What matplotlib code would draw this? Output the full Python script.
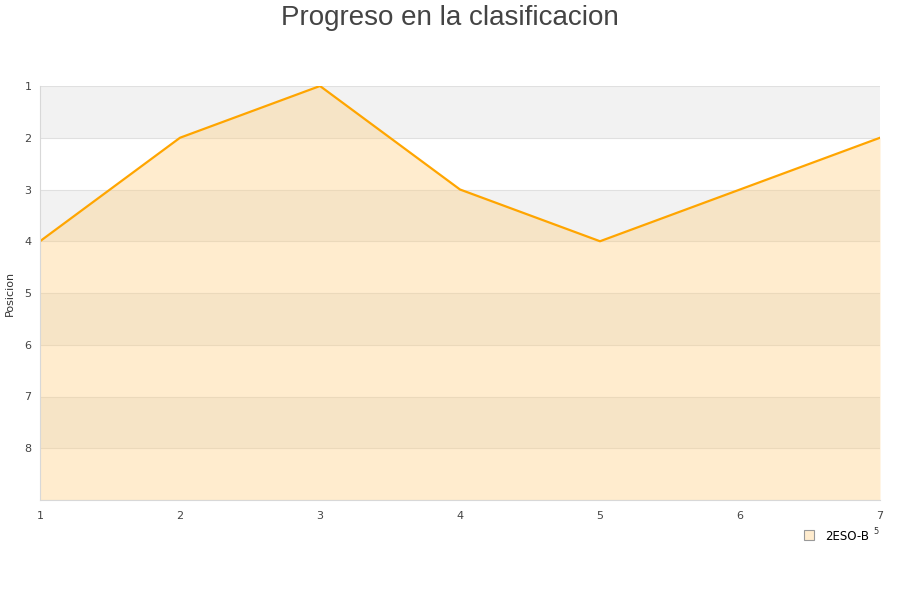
import matplotlib
matplotlib.use("Agg")
import matplotlib.pyplot as plt
from matplotlib.lines import Line2D

jornadas = [1, 2, 3, 4, 5, 6, 7]
posiciones = [4, 2, 1, 3, 4, 3, 2]
serie = "2ESO-B"
y_ticks = [1, 2, 3, 4, 5, 6, 7, 8]

fig = plt.figure(figsize=(9, 6), dpi=100)
ax = fig.add_axes([40/900, 1 - 500/600, 840/900, 414/600])
ax.set_xlim(1, 7)
ax.set_ylim(9, 1)

# alternating bands
for k in range(1, 9, 2):
    ax.axhspan(k, k + 1, color="#f2f2f2", zorder=0, lw=0)
for k in range(1, 10):
    ax.axhline(k, color="#e0e0e0", lw=0.8, zorder=0.5)

ax.fill_between(jornadas, posiciones, 9, color=(1.0, 206/255, 128/255), alpha=0.385, lw=0, zorder=1)
ax.plot(jornadas, posiciones, color="#ffa500", lw=1.6, zorder=2)

ax.set_yticks(y_ticks)
ax.set_xticks(jornadas)
ax.tick_params(axis="y", length=0, labelsize=8, colors="#444444", pad=6)
ax.tick_params(axis="x", length=0, labelsize=8, colors="#444444", pad=8)
for s in ["top", "right"]:
    ax.spines[s].set_visible(False)
for s in ["left", "bottom"]:
    ax.spines[s].set_color("#d8d8d8")
ax.set_ylabel("Posicion", fontsize=8, color="#333333")
ax.yaxis.set_label_coords(-25/840, 0.5)

fig.suptitle("Progreso en la clasificacion", fontsize=20, color="#444444", y=0.992,
             family="Liberation Sans")

handle = Line2D([], [], marker="s", ls="none", markersize=7,
                markerfacecolor="#ffecce", markeredgecolor="#999999", markeredgewidth=0.8)
fig.legend([handle], [serie], loc="center left", bbox_to_anchor=(792/900, 1 - 536/600),
           frameon=False, fontsize=8.5, handletextpad=0.4, borderaxespad=0)
fig.text(876/900, 1 - 532/600, "5", fontsize=6, color="#333333", ha="center", va="center")

fig.savefig("out.png", dpi=100)
